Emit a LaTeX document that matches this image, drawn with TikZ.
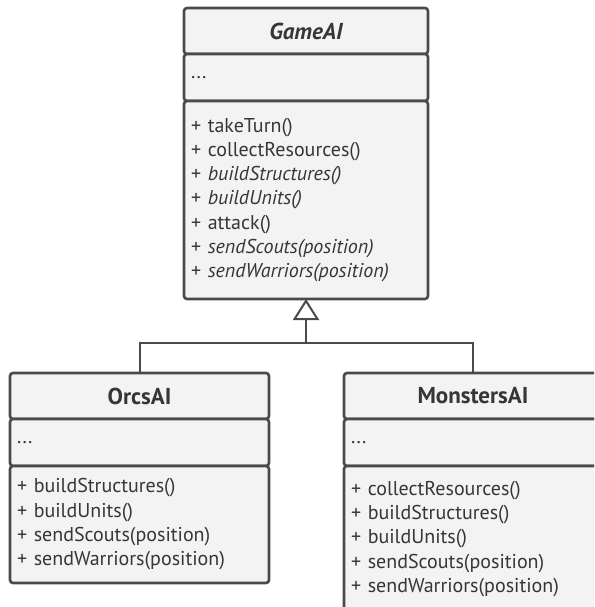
\documentclass[tikz,border=0pt]{standalone}
\usepackage{fontspec}
\setmainfont{PT Sans}
\usetikzlibrary{arrows.meta}
\definecolor{umlline}{HTML}{4A4A4A}
\definecolor{umlfill}{HTML}{F3F3F3}
\definecolor{umltext}{HTML}{363636}
\begin{document}
\begin{tikzpicture}[x=1pt, y=-1pt,
    part/.style={draw=umlline, fill=umlfill, line width=2.6pt, rounded corners=3pt,
        anchor=north west, outer sep=0pt, inner xsep=7pt, inner ysep=0pt,
        text=umltext, text width=#1},
    head/.style={part=#1, minimum height=46pt, align=center,
        font=\fontsize{23}{24}\selectfont\bfseries},
    attr/.style={part=#1, minimum height=47pt, align=left,
        font=\fontsize{20}{24}\selectfont},
    meth/.style 2 args={part=#1, minimum height=#2, align=left,
        font=\fontsize{20}{24.3}\selectfont},
    link/.style={draw=umlline, line width=2pt}]
    \clip (0,0) rectangle (594,607);
    \fill[white] (0,0) rectangle (594,607);
    \node[head=230pt] (gamehead) at (184,8) {\itshape GameAI};
    \node[attr=230pt] (gameattr) at (gamehead.south west) {...};
    \node[meth={230pt}{198pt}] (gamemeth) at (gameattr.south west)
        {+ takeTurn()\\+ collectResources()\\+ \textit{buildStructures()}\\
         + \textit{buildUnits()}\\+ attack()\\+ \textit{sendScouts(position)}\\
         + \textit{sendWarriors(position)}};
    \node[head=245pt] (orcshead) at (10,373) {OrcsAI};
    \node[attr=245pt] (orcsattr) at (orcshead.south west) {...};
    \node[meth={245pt}{117pt}] (orcsmeth) at (orcsattr.south west)
        {+ buildStructures()\\+ buildUnits()\\+ sendScouts(position)\\
         + sendWarriors(position)};
    \node[head=244pt] (monhead) at (344,373) {MonstersAI};
    \node[attr=244pt] (monattr) at (monhead.south west) {...};
    \node[meth={244pt}{146pt}] (monmeth) at (monattr.south west)
        {+ collectResources()\\+ buildStructures()\\+ buildUnits()\\
         + sendScouts(position)\\+ sendWarriors(position)};
    \coordinate (join) at (306,343);
    \draw[link] (orcshead.north) |- (join) -| (monhead.north);
    \draw[link, -{Triangle[open, length=21pt, width=26pt, line width=2pt]}]
        (join) -- (gamemeth.south);
\end{tikzpicture}
\end{document}
